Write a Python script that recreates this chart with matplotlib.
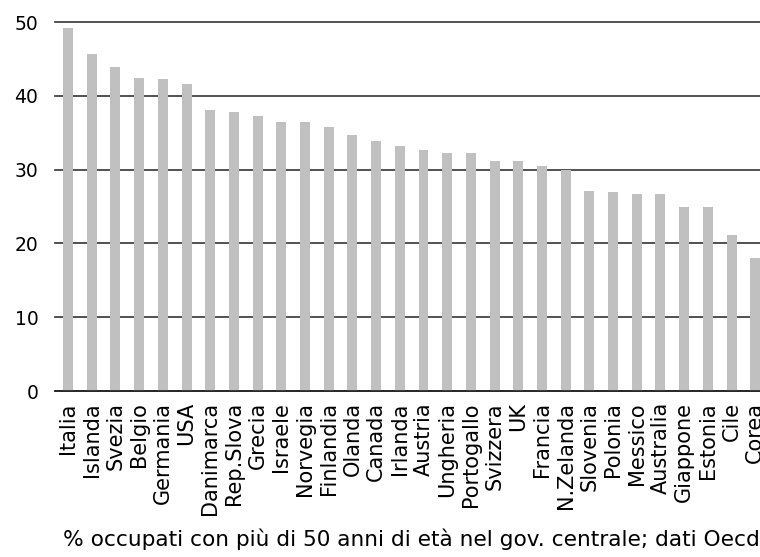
import matplotlib
matplotlib.use("Agg")
import matplotlib.pyplot as plt
import numpy as np

paesi = ["Italia", "Islanda", "Svezia", "Belgio", "Germania", "USA",
         "Danimarca", "Rep.Slova", "Grecia", "Israele", "Norvegia",
         "Finlandia", "Olanda", "Canada", "Irlanda", "Austria", "Ungheria",
         "Portogallo", "Svizzera", "UK", "Francia", "N.Zelanda", "Slovenia",
         "Polonia", "Messico", "Australia", "Giappone", "Estonia", "Cile",
         "Corea"]
quota_over50 = [49.2, 45.6, 43.9, 42.4, 42.3, 41.6, 38.1, 37.8, 37.3, 36.4,
                36.4, 35.8, 34.7, 33.9, 33.2, 32.6, 32.3, 32.2, 31.2, 31.2,
                30.5, 29.9, 27.1, 26.9, 26.7, 26.7, 24.9, 24.9, 21.1, 18.0]
yticks = [0, 10, 20, 30, 40, 50]
nota = "% occupati con più di 50 anni di età nel gov. centrale; dati Oecd"

fig = plt.figure(figsize=(7.6, 5.57), dpi=100)
ax = fig.add_axes([0.0724, 0.298, 0.9276, 0.6625])

x = np.arange(len(paesi))
ax.bar(x, quota_over50, width=0.42, color="#c0c0c0", zorder=1)

ax.set_ylim(0, 50)
ax.set_xlim(-0.55, len(paesi) - 0.8)
ax.set_yticks(yticks)
ax.yaxis.grid(True, color="#333333", linewidth=1.2, zorder=0)
ax.set_axisbelow(True)
for gl in ax.get_ygridlines():
    gl.set_clip_on(False)
for s in ["top", "right", "left"]:
    ax.spines[s].set_visible(False)
ax.spines["bottom"].set_color("#222222")
ax.spines["bottom"].set_linewidth(1.2)

ax.set_xticks(x)
ax.set_xticklabels(paesi, rotation=90, fontsize=15)
ax.tick_params(axis="x", length=0, pad=8)
ax.tick_params(axis="y", length=0, pad=12, labelsize=13.5)

fig.text(0.083, 0.012, nota, fontsize=15.6, ha="left", va="bottom")

fig.savefig("out.png", dpi=100)
